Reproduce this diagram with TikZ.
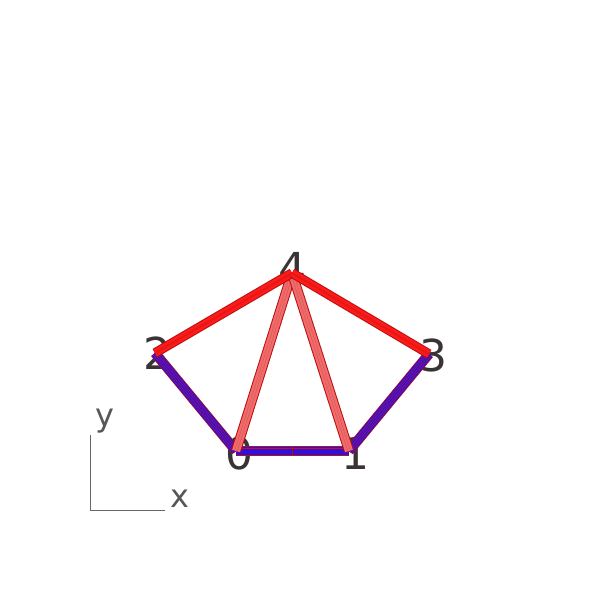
\documentclass[tikz,border=0pt]{standalone}
\usepackage{fontspec}
\setmainfont{DejaVu Sans}
\usetikzlibrary{calc}
\definecolor{lbl}{HTML}{3A3333}
\definecolor{axc}{HTML}{666666}
\definecolor{barred}{HTML}{FF1A1A}
\definecolor{bardark}{HTML}{B80F0F}
\definecolor{barsalmon}{HTML}{F26A6A}
\definecolor{barblue}{HTML}{3010D8}
\definecolor{stripe}{HTML}{C01030}
\tikzset{
  numlbl/.style={font=\fontsize{44}{44}\selectfont, text=lbl, inner sep=0pt},
  axlbl/.style={font=\fontsize{32}{32}\selectfont, text=axc!85!black, inner sep=0pt},
  axline/.style={draw=axc, line width=1pt},
}
\newcommand{\redbar}[2]{%
  \draw[bardark, line width=9.5pt] (#1) -- (#2);
  \draw[barred, line width=7.5pt] (#1) -- (#2);
  \draw[barred!90!black, line width=2pt] (#1) -- (#2);
}
\newcommand{\salmonbar}[2]{%
  \draw[bardark, line width=10pt] (#1) -- (#2);
  \draw[barsalmon, line width=8pt] (#1) -- (#2);
  \draw[bardark!70, line width=3pt] (#1) -- (#2);
  \draw[barsalmon, line width=2pt] (#1) -- (#2);
}
\newcommand{\bluebar}[2]{%
  \draw[bardark, line width=10pt] (#1) -- (#2);
  \draw[barblue, line width=8.6pt] (#1) -- (#2);
  \draw[stripe, line width=6pt] (#1) -- (#2);
  \draw[barblue, line width=5pt] (#1) -- (#2);
  \draw[stripe, line width=2.4pt] (#1) -- (#2);
  \draw[barblue, line width=1.4pt] (#1) -- (#2);
}
\begin{document}
\begin{tikzpicture}[x=1pt,y=-1pt]
\useasboundingbox (0,0) rectangle (600,600);
% node positions
\coordinate (n0) at (236,451);
\coordinate (n1) at (349,451);
\coordinate (n2) at (155,353);
\coordinate (n3) at (429,354);
\coordinate (n4) at (292,273);
% labels (behind bars)
\node[numlbl] (l0) at (239,453) {0};
\node[numlbl] (l1) at (355,453) {1};
\node[numlbl] (l2) at (157,353) {2};
\node[numlbl] (l3) at (433,355) {3};
\node[numlbl] (l4) at (292,268) {4};
% axes
\coordinate (ao) at (90.5,510);
\coordinate (ay) at (90.5,435);
\coordinate (ax) at (165,510);
\draw[axline] (ay) -- (ao) -- (ax);
\node[axlbl] (ylbl) at (105,421) {y};
\node[axlbl] (xlbl) at (180,499) {x};
% bars
\bluebar{n2}{n0}
\bluebar{n3}{n1}
\bluebar{n0}{n1}
\draw[bardark, line width=1pt] ($(n0)!0.5!(n1)+(0,-5)$) -- ($(n0)!0.5!(n1)+(0,5)$);
\salmonbar{n4}{n0}
\salmonbar{n4}{n1}
\redbar{n4}{n2}
\redbar{n4}{n3}
\end{tikzpicture}
\end{document}
